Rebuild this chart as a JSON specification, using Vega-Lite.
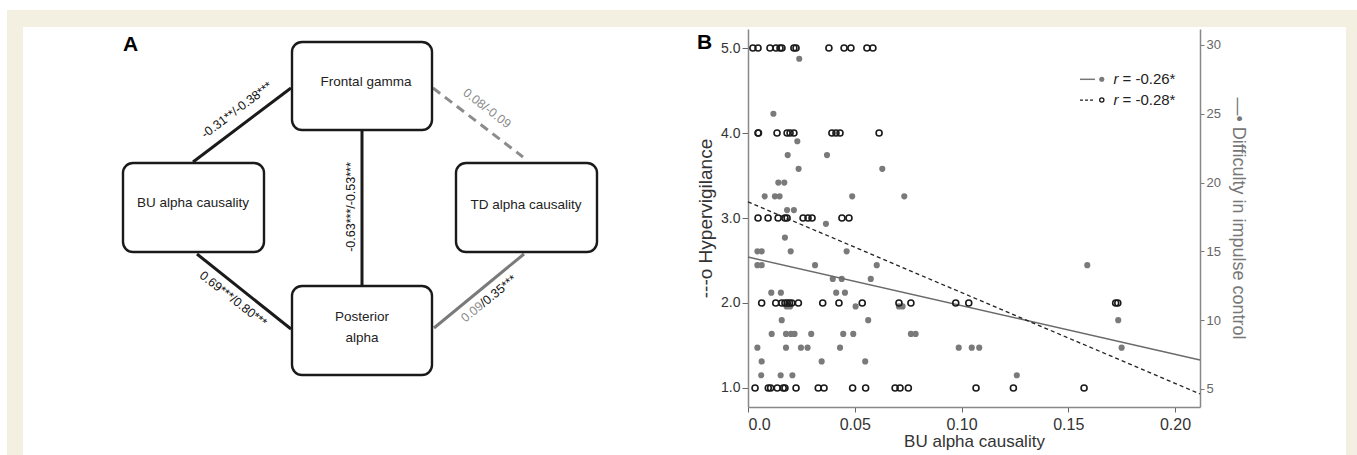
{
  "$schema": "https://vega.github.io/schema/vega-lite/v6.json",
  "padding": 0,
  "background": "white",
  "spacing": 48,
  "bounds": "flush",
  "config": {"view": {"stroke": null}, "font": "Liberation Sans"},
  "datasets": {
    "hyper": [
      {"bu":0.0023,"v":5},{"bu":0.0047,"v":5},{"bu":0.0103,"v":5},{"bu":0.0131,"v":5},{"bu":0.0150,"v":5},{"bu":0.0159,"v":5},{"bu":0.0215,"v":5},{"bu":0.0225,"v":5},{"bu":0.0379,"v":5},{"bu":0.0450,"v":5},{"bu":0.0482,"v":5},{"bu":0.0557,"v":5},{"bu":0.0585,"v":5},
      {"bu":0.0047,"v":4},{"bu":0.0049,"v":4},{"bu":0.0136,"v":4},{"bu":0.0183,"v":4},{"bu":0.0197,"v":4},{"bu":0.0215,"v":4},{"bu":0.0393,"v":4},{"bu":0.0412,"v":4},{"bu":0.0431,"v":4},{"bu":0.0614,"v":4},
      {"bu":0.0047,"v":3},{"bu":0.0094,"v":3},{"bu":0.0141,"v":3},{"bu":0.0173,"v":3},{"bu":0.0183,"v":3},{"bu":0.0258,"v":3},{"bu":0.0281,"v":3},{"bu":0.0300,"v":3},{"bu":0.0440,"v":3},{"bu":0.0473,"v":3},
      {"bu":0.0064,"v":2},{"bu":0.0130,"v":2},{"bu":0.0158,"v":2},{"bu":0.0173,"v":2},{"bu":0.0184,"v":2},{"bu":0.0194,"v":2},{"bu":0.0205,"v":2},{"bu":0.0236,"v":2},{"bu":0.0350,"v":2},{"bu":0.0426,"v":2},{"bu":0.0535,"v":2},{"bu":0.0707,"v":2},{"bu":0.0763,"v":2},{"bu":0.0973,"v":2},{"bu":0.1034,"v":2},{"bu":0.1722,"v":2},{"bu":0.1732,"v":2},
      {"bu":0.0033,"v":1},{"bu":0.0095,"v":1},{"bu":0.0106,"v":1},{"bu":0.0137,"v":1},{"bu":0.0165,"v":1},{"bu":0.0173,"v":1},{"bu":0.0225,"v":1},{"bu":0.0329,"v":1},{"bu":0.0356,"v":1},{"bu":0.0490,"v":1},{"bu":0.0551,"v":1},{"bu":0.0689,"v":1},{"bu":0.0712,"v":1},{"bu":0.0751,"v":1},{"bu":0.1068,"v":1},{"bu":0.1243,"v":1},{"bu":0.1574,"v":1}
    ],
    "impulse": [
      {"bu":0.0240,"v":29},{"bu":0.0119,"v":25},{"bu":0.0231,"v":23},{"bu":0.0186,"v":22},{"bu":0.0370,"v":22},{"bu":0.0237,"v":21},{"bu":0.0629,"v":21},
      {"bu":0.0142,"v":20},{"bu":0.0170,"v":20},{"bu":0.0078,"v":19},{"bu":0.0126,"v":19},{"bu":0.0148,"v":19},{"bu":0.0488,"v":19},{"bu":0.0732,"v":19},
      {"bu":0.0183,"v":18},{"bu":0.0215,"v":18},{"bu":0.0365,"v":17},{"bu":0.0173,"v":16},
      {"bu":0.0044,"v":15},{"bu":0.0064,"v":15},{"bu":0.0200,"v":15},{"bu":0.0462,"v":15},
      {"bu":0.0044,"v":14},{"bu":0.0064,"v":14},{"bu":0.0314,"v":14},{"bu":0.0603,"v":14},{"bu":0.1589,"v":14},
      {"bu":0.0397,"v":13},{"bu":0.0439,"v":13},{"bu":0.0575,"v":13},
      {"bu":0.0109,"v":12},{"bu":0.0154,"v":12},{"bu":0.0413,"v":12},{"bu":0.0454,"v":12},
      {"bu":0.0181,"v":11},{"bu":0.0197,"v":11},{"bu":0.0504,"v":11},{"bu":0.0707,"v":11},{"bu":0.0724,"v":11},
      {"bu":0.0158,"v":10},{"bu":0.0563,"v":10},{"bu":0.1734,"v":10},
      {"bu":0.0111,"v":9},{"bu":0.0178,"v":9},{"bu":0.0201,"v":9},{"bu":0.0218,"v":9},{"bu":0.0296,"v":9},{"bu":0.0446,"v":9},{"bu":0.0493,"v":9},{"bu":0.0763,"v":9},{"bu":0.0785,"v":9},
      {"bu":0.0044,"v":8},{"bu":0.0178,"v":8},{"bu":0.0248,"v":8},{"bu":0.0279,"v":8},{"bu":0.0431,"v":8},{"bu":0.0987,"v":8},{"bu":0.1048,"v":8},{"bu":0.1083,"v":8},{"bu":0.1750,"v":8},
      {"bu":0.0064,"v":7},{"bu":0.0345,"v":7},{"bu":0.0549,"v":7},
      {"bu":0.0062,"v":6},{"bu":0.0153,"v":6},{"bu":0.0208,"v":6},{"bu":0.1259,"v":6}
    ]
  },
  "hconcat": [
    {
      "width": 700,
      "height": 378,
      "encoding": {
        "x": {"field": "x1", "type": "quantitative", "scale": {"domain": [0, 700], "nice": false, "zero": false}, "axis": null},
        "y": {"field": "y1", "type": "quantitative", "scale": {"domain": [-1, 377], "nice": false, "zero": false, "reverse": true}, "axis": null}
      },
      "layer": [
        {
          "data": {"values": [{"x1": 0, "x2": 1357, "y1": -30, "y2": 425}]},
          "mark": {"type": "rect", "fill": "#ffffff", "clip": false},
          "encoding": {"x2": {"field": "x2"}, "y2": {"field": "y2"}}
        },
        {
          "data": {"values": [{"x1": 7, "x2": 1357, "y1": -20, "y2": 425}]},
          "mark": {"type": "rect", "fill": "#f4f0e1", "clip": false},
          "encoding": {"x2": {"field": "x2"}, "y2": {"field": "y2"}}
        },
        {
          "data": {"values": [{"x1": 23, "x2": 1346, "y1": -3, "y2": 425}]},
          "mark": {"type": "rect", "fill": "#ffffff", "clip": false},
          "encoding": {"x2": {"field": "x2"}, "y2": {"field": "y2"}}
        },
        {
          "data": {"values": [
            {"x1": 193, "y1": 132, "x2": 291, "y2": 58},
            {"x1": 362, "y1": 100, "x2": 362, "y2": 256},
            {"x1": 197, "y1": 224, "x2": 291, "y2": 299}
          ]},
          "mark": {"type": "rule", "color": "#1a1a1a", "strokeWidth": 3},
          "encoding": {"x2": {"field": "x2"}, "y2": {"field": "y2"}}
        },
        {
          "data": {"values": [{"x1": 524, "y1": 224, "x2": 434, "y2": 298}]},
          "mark": {"type": "rule", "color": "#7a7a7a", "strokeWidth": 3},
          "encoding": {"x2": {"field": "x2"}, "y2": {"field": "y2"}}
        },
        {
          "data": {"values": [{"x1": 433, "y1": 58, "x2": 523, "y2": 127}]},
          "mark": {"type": "rule", "color": "#8c8c8c", "strokeWidth": 3, "strokeDash": [9, 6]},
          "encoding": {"x2": {"field": "x2"}, "y2": {"field": "y2"}}
        },
        {
          "data": {"values": [
            {"box": "Frontal gamma", "x1": 292, "x2": 432, "y1": 12, "y2": 100},
            {"box": "BU alpha causality", "x1": 123, "x2": 264, "y1": 133, "y2": 222},
            {"box": "TD alpha causality", "x1": 456, "x2": 597, "y1": 133, "y2": 222},
            {"box": "Posterior alpha", "x1": 292, "x2": 432, "y1": 256, "y2": 345}
          ]},
          "mark": {"type": "rect", "fill": "#ffffff", "stroke": "#1a1a1a", "strokeWidth": 2.4, "cornerRadius": 10},
          "encoding": {"x2": {"field": "x2"}, "y2": {"field": "y2"}}
        },
        {
          "data": {"values": [
            {"t": "Frontal gamma", "x1": 366, "y1": 52},
            {"t": "BU alpha causality", "x1": 193, "y1": 173},
            {"t": "TD alpha causality", "x1": 526, "y1": 175},
            {"t": "Posterior", "x1": 362, "y1": 287},
            {"t": "alpha", "x1": 362, "y1": 308}
          ]},
          "mark": {"type": "text", "fontSize": 13.5, "color": "#222222", "align": "center", "baseline": "middle"},
          "encoding": {"text": {"field": "t"}}
        },
        {
          "data": {"values": [{"t": "-0.31**/-0.38***", "x1": 236.7, "y1": 80}]},
          "mark": {"type": "text", "fontSize": 12.5, "color": "#111111", "align": "center", "baseline": "middle", "angle": -37},
          "encoding": {"text": {"field": "t"}}
        },
        {
          "data": {"values": [{"t": "-0.63***/-0.53***", "x1": 351, "y1": 177}]},
          "mark": {"type": "text", "fontSize": 12.5, "color": "#111111", "align": "center", "baseline": "middle", "angle": -90},
          "encoding": {"text": {"field": "t"}}
        },
        {
          "data": {"values": [{"t": "0.08/-0.09", "x1": 487, "y1": 78.3}]},
          "mark": {"type": "text", "fontSize": 12.5, "color": "#8c8c8c", "align": "center", "baseline": "middle", "angle": 37.5},
          "encoding": {"text": {"field": "t"}}
        },
        {
          "data": {"values": [{"t": "0.69***/0.80***", "x1": 233.3, "y1": 269}]},
          "mark": {"type": "text", "fontSize": 12.5, "color": "#111111", "align": "center", "baseline": "middle", "angle": 38},
          "encoding": {"text": {"field": "t"}}
        },
        {
          "data": {"values": [{"t": "0.09", "x1": 481.7, "y1": 274.3}]},
          "mark": {"type": "text", "fontSize": 12.5, "color": "#8c8c8c", "align": "right", "baseline": "middle", "angle": -39},
          "encoding": {"text": {"field": "t"}}
        },
        {
          "data": {"values": [{"t": "/0.35***", "x1": 481.7, "y1": 274.3}]},
          "mark": {"type": "text", "fontSize": 12.5, "color": "#111111", "align": "left", "baseline": "middle", "angle": -39},
          "encoding": {"text": {"field": "t"}}
        },
        {
          "data": {"values": [{"t": "A", "x1": 130.5, "y1": 14.5}, {"t": "B", "x1": 704.5, "y1": 12.5}]},
          "mark": {"type": "text", "fontSize": 21, "fontWeight": "bold", "color": "#000000", "align": "center", "baseline": "middle"},
          "encoding": {"text": {"field": "t"}}
        }
      ]
    },
    {
      "width": 452,
      "height": 378,
      "layer": [
        {
          "encoding": {
            "x": {"field": "bu", "type": "quantitative", "scale": {"domain": [0, 0.2117], "nice": false, "zero": false},
              "axis": {"title": "BU alpha causality", "values": [0, 0.05, 0.1, 0.15, 0.2], "labelExpr": "datum.value == 0 ? '0.0' : format(datum.value, '.2f')", "grid": false, "domainColor": "#888888", "domainWidth": 1.5, "tickColor": "#666666", "tickSize": 5, "labelFontSize": 16, "labelColor": "#333333", "labelPadding": 4, "titleFontSize": 17, "titleFontWeight": "normal", "titleColor": "#333333", "titlePadding": 1}},
            "y": {"field": "v", "type": "quantitative", "scale": {"domain": [3.69, 31.16], "nice": false, "zero": false},
              "axis": {"orient": "right", "title": "—• Difficulty in impulse control", "values": [5, 10, 15, 20, 25, 30], "grid": false, "domainColor": "#888888", "domainWidth": 1.5, "tickColor": "#777777", "tickSize": 4, "labelFontSize": 13, "labelColor": "#666666", "labelPadding": 2, "titleFontSize": 18, "titleFontWeight": "normal", "titleColor": "#777777", "titlePadding": 8}}
          },
          "layer": [
            {
              "data": {"name": "impulse"},
              "mark": {"type": "point", "shape": "circle", "filled": true, "color": "#7a7a7a", "opacity": 1, "size": 38}
            },
            {
              "data": {"values": [{"bu": 0, "v": 14.59}, {"bu": 0.2117, "v": 7.11}]},
              "mark": {"type": "line", "color": "#6a6a6a", "strokeWidth": 1.5}
            }
          ]
        },
        {
          "encoding": {
            "x": {"field": "bu", "type": "quantitative", "scale": {"domain": [0, 0.2117], "nice": false, "zero": false},
              "axis": {"title": "BU alpha causality", "values": [0, 0.05, 0.1, 0.15, 0.2], "labelExpr": "datum.value == 0 ? '0.0' : format(datum.value, '.2f')", "grid": false, "domainColor": "#888888", "domainWidth": 1.5, "tickColor": "#666666", "tickSize": 5, "labelFontSize": 16, "labelColor": "#333333", "labelPadding": 4, "titleFontSize": 17, "titleFontWeight": "normal", "titleColor": "#333333", "titlePadding": 1}},
            "y": {"field": "v", "type": "quantitative", "scale": {"domain": [0.776, 5.224], "nice": false, "zero": false},
              "axis": {"orient": "left", "title": "---o Hypervigilance", "values": [1, 2, 3, 4, 5], "format": ".1f", "grid": false, "domainColor": "#888888", "domainWidth": 1.5, "tickColor": "#666666", "tickSize": 6, "labelFontSize": 14, "labelColor": "#333333", "labelPadding": 2, "titleFontSize": 19, "titleFontWeight": "normal", "titleColor": "#333333", "titlePadding": 5}}
          },
          "layer": [
            {
              "data": {"name": "hyper"},
              "mark": {"type": "point", "shape": "circle", "filled": false, "stroke": "#1a1a1a", "strokeWidth": 1.6, "opacity": 1, "size": 36}
            },
            {
              "data": {"values": [{"bu": 0, "v": 3.19}, {"bu": 0.2117, "v": 0.93}]},
              "mark": {"type": "line", "color": "#222222", "strokeWidth": 1.3, "strokeDash": [4, 3]}
            },
            {
              "data": {"values": [{"bu": 0.1555, "bu2": 0.1625, "v": 4.632}]},
              "mark": {"type": "rule", "color": "#777777", "strokeWidth": 1.5},
              "encoding": {"x2": {"field": "bu2"}}
            },
            {
              "data": {"values": [{"bu": 0.1555, "bu2": 0.1625, "v": 4.388}]},
              "mark": {"type": "rule", "color": "#222222", "strokeWidth": 1.3, "strokeDash": [3, 2]},
              "encoding": {"x2": {"field": "bu2"}}
            },
            {
              "data": {"values": [{"bu": 0.1657, "v": 4.632}]},
              "mark": {"type": "point", "shape": "circle", "filled": true, "color": "#7a7a7a", "opacity": 1, "size": 26}
            },
            {
              "data": {"values": [{"bu": 0.1657, "v": 4.388}]},
              "mark": {"type": "point", "shape": "circle", "filled": false, "stroke": "#1a1a1a", "strokeWidth": 1.3, "opacity": 1, "size": 18}
            },
            {
              "data": {"values": [{"bu": 0.1712, "v": 4.632, "t": "r"}, {"bu": 0.1712, "v": 4.388, "t": "r"}]},
              "mark": {"type": "text", "fontStyle": "italic", "fontSize": 15, "color": "#222222", "align": "left", "baseline": "middle"},
              "encoding": {"text": {"field": "t"}}
            },
            {
              "data": {"values": [{"bu": 0.1754, "v": 4.632, "t": "= -0.26*"}, {"bu": 0.1754, "v": 4.388, "t": "= -0.28*"}]},
              "mark": {"type": "text", "fontSize": 15, "color": "#222222", "align": "left", "baseline": "middle"},
              "encoding": {"text": {"field": "t"}}
            }
          ]
        }
      ],
      "resolve": {"scale": {"y": "independent"}}
    }
  ]
}
